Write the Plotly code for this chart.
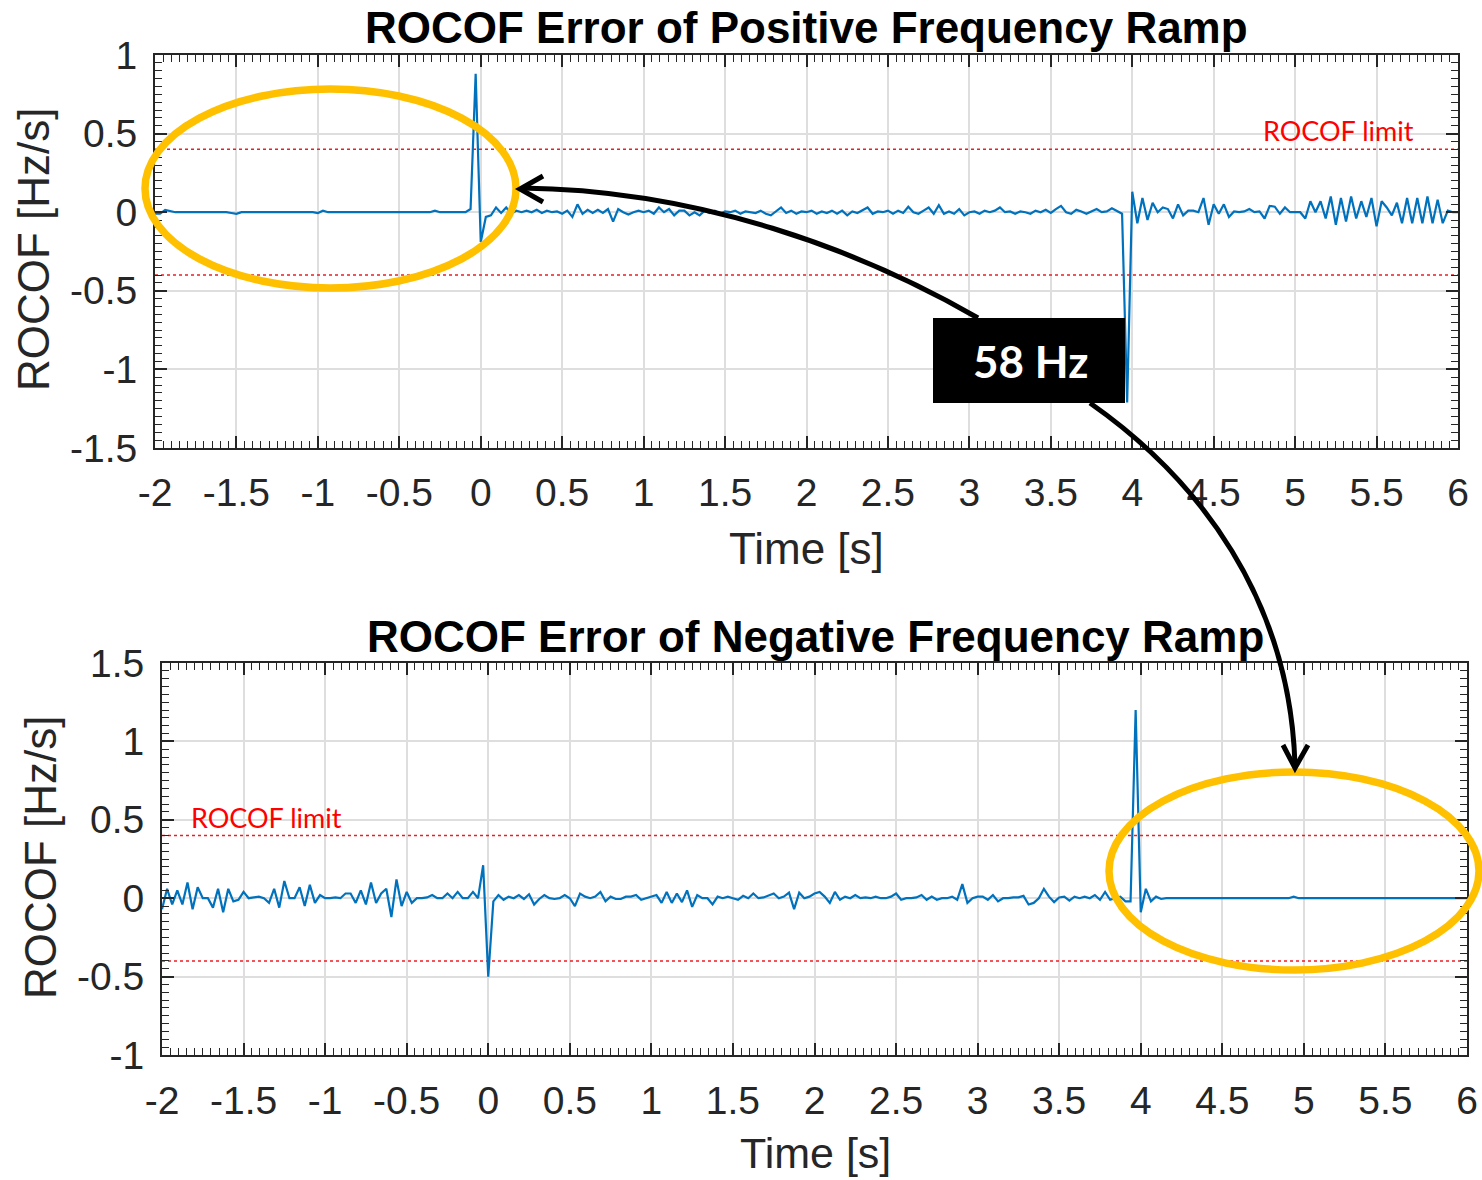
import numpy as np
import plotly.graph_objects as go

# ---------------------------------------------------------------- data
SAMPLE_RATE = 32          # reports per second
T_START = -2.0            # s

# ROCOF error, positive frequency ramp [Hz/s]
rocof_pos = [
    -0.01, -0.01, 0.015, 0.005, 0, 0, 0, 0, 0, 0, 0, 0, 0, 0, 0, -0.005,
    -0.01, 0, 0, 0, 0, 0, 0, 0, 0, 0, 0, 0, 0, 0, 0, 0,
    -0.005, 0.01, 0, 0, 0, 0, 0, 0, 0, 0, 0, 0, 0, 0, 0, 0,
    0, 0, 0, 0, 0, 0, 0, 0.01, 0, 0, 0, 0, 0, 0, 0.02, 0.88,
    -0.19, -0.03, -0.02, 0.03, -0.005, 0.03, -0.01, 0.01, 0, 0.01, 0, 0.015, -0.005, 0.01, 0, 0.005,
    -0.01, 0.01, -0.03, 0.05, -0.01, 0.015, -0.005, 0.015, -0.005, 0.02, -0.06, 0.02, 0, -0.015, 0, 0.01,
    0, 0.01, -0.01, 0.03, 0, 0.02, -0.02, 0.01, 0.01, -0.02, 0, -0.02, 0.01, -0.005, 0.01, -0.01,
    0.005, 0, 0.01, -0.01, 0.005, 0, -0.005, 0.01, -0.01, -0.02, 0.005, 0.03, -0.005, 0.01, -0.01, 0.005,
    0, 0.01, -0.01, 0.005, -0.005, 0.01, -0.01, 0.01, -0.02, 0.005, -0.005, 0.01, 0.03, -0.01, 0.005, 0,
    0.01, -0.01, 0.01, -0.005, 0.035, 0, -0.01, 0.01, 0.03, -0.01, 0.045, -0.01, 0.005, -0.01, 0.02, -0.02,
    0, 0.005, -0.01, 0.01, 0, 0.01, 0.03, 0, 0.005, -0.01, 0.005, 0, -0.01, 0.01, 0, 0.015,
    -0.005, 0.02, 0.04, 0, -0.01, 0.015, 0.005, -0.01, 0.005, 0.02, 0, 0.005, 0.025, 0.005, -0.01, -1.21,
    0.13, -0.07, 0.09, -0.05, 0.06, 0, 0.03, 0.02, -0.04, 0.05, -0.02, 0.01, 0.01, 0, 0.09, -0.08,
    0.05, -0.01, 0.05, -0.03, 0.005, 0, 0.005, 0.02, 0, 0.005, -0.04, 0.04, 0.035, -0.01, 0.03, 0,
    0, 0, -0.04, 0.07, 0, 0.07, -0.04, 0.1, -0.08, 0.09, -0.06, 0.1, -0.04, 0.07, -0.03, 0.09,
    -0.09, 0.07, 0.03, -0.02, 0.06, -0.07, 0.09, -0.07, 0.09, -0.07, 0.1, -0.07, 0.08, -0.07, 0.01, 0,
    0,
]

# ROCOF error, negative frequency ramp [Hz/s]
rocof_neg = [
    -0.07, 0.06, -0.04, 0.05, -0.04, 0.1, -0.07, 0.07, 0, 0, -0.06, 0.06, -0.09, 0.06, -0.02, -0.01,
    0.04, 0, 0.005, 0.01, 0, -0.03, 0.06, -0.06, 0.11, 0, 0, 0.07, -0.05, 0.085, -0.03, 0.02,
    0, 0, 0.005, 0, 0.03, 0.03, -0.03, 0.05, -0.04, 0.1, -0.03, 0.03, 0.06, -0.12, 0.12, -0.05,
    0.04, -0.03, 0, 0, 0.005, 0.02, 0, 0, 0.03, 0, 0.04, 0, 0, 0.04, 0, 0.21,
    -0.5, -0.02, 0.02, -0.01, 0.01, 0, 0.02, -0.005, 0.025, -0.04, -0.005, 0.02, 0, -0.005, 0, 0.02,
    0, -0.05, 0.03, 0.01, 0, 0.01, 0.04, -0.02, 0.01, -0.005, -0.005, 0.01, 0.01, 0.02, -0.01, 0,
    0.01, 0.02, -0.03, 0.04, -0.03, 0.03, -0.025, 0.05, -0.055, 0.02, 0, 0, -0.04, 0.01, 0, 0.01,
    0, -0.01, 0.015, 0, 0.03, 0, 0.005, 0.02, 0.03, 0, 0.01, 0.035, -0.07, 0.035, 0, 0.01,
    0.03, 0.04, 0.01, -0.03, 0.04, -0.01, 0.01, 0, 0.02, 0, 0.005, 0, 0.01, 0, 0, 0.01,
    0.03, -0.01, 0, 0, 0.005, 0.02, -0.01, 0.01, -0.01, 0, 0, 0.01, -0.01, 0.09, -0.03, 0,
    0.01, 0.01, -0.01, 0.02, -0.02, 0, 0, 0.005, 0.005, 0.015, -0.04, -0.03, 0, 0.06, 0.01, -0.025,
    0.005, 0.01, -0.015, 0.01, 0, 0.01, 0, 0.02, -0.01, 0.04, -0.01, 0, 0.01, -0.02, -0.02, 1.2,
    -0.09, 0.06, -0.02, 0.01, -0.005, 0, 0, 0, 0, 0, 0, 0, 0, 0, 0, 0,
    0, 0, 0, 0, 0, 0, 0, 0, 0, 0, 0, 0, 0, 0, 0.01, 0,
    0, 0, 0, 0, 0, 0, 0, 0, 0, 0, 0, 0, 0, 0, 0, 0,
    0, 0, 0, 0, 0, 0, 0, 0, 0, 0, 0, 0, 0, 0, 0, 0,
    0,
]

ROCOF_LIMIT = 0.4        # Hz/s

x_ticks = [-2, -1.5, -1, -0.5, 0, 0.5, 1, 1.5, 2, 2.5, 3, 3.5, 4, 4.5, 5, 5.5, 6]
x_tick_text = ["-2", "-1.5", "-1", "-0.5", "0", "0.5", "1", "1.5", "2", "2.5",
               "3", "3.5", "4", "4.5", "5", "5.5", "6"]
y_ticks_top = [-1.5, -1, -0.5, 0, 0.5, 1]
y_tick_text_top = ["-1.5", "-1", "-0.5", "0", "0.5", "1"]
y_ticks_bottom = [-1, -0.5, 0, 0.5, 1, 1.5]
y_tick_text_bottom = ["-1", "-0.5", "0", "0.5", "1", "1.5"]

title_top = "ROCOF Error of Positive Frequency Ramp"
title_bottom = "ROCOF Error of Negative Frequency Ramp"
x_label = "Time [s]"
y_label = "ROCOF [Hz/s]"
limit_label = "ROCOF limit"
callout_label = "58 Hz"

# ---------------------------------------------------------------- helpers
W, H = 1482, 1180


def px(x):
    return x / W


def py(y):
    return 1 - y / H


def path(cmds):
    out = []
    for c in cmds:
        op, pts = c[0], c[1:]
        out.append(op + " " + " ".join(f"{px(a):.5f},{py(b):.5f}" for a, b in pts))
    return " ".join(out)


t_top = T_START + np.arange(len(rocof_pos)) / SAMPLE_RATE
t_bot = T_START + np.arange(len(rocof_neg)) / SAMPLE_RATE

BLUE = "#0072BD"
RED = "#EE1C24"
INK = "#262626"
GOLD = "#FFC000"
FONT = "Liberation Sans, Arial, sans-serif"

fig = go.Figure()

for xa, ya in (("x", "y"), ("x2", "y2")):
    for lvl in (ROCOF_LIMIT, -ROCOF_LIMIT):
        fig.add_trace(go.Scatter(x=[x_ticks[0], x_ticks[-1]], y=[lvl, lvl], xaxis=xa, yaxis=ya,
                                 mode="lines", line=dict(color=RED, width=1.5, dash="dot"),
                                 hoverinfo="skip", showlegend=False))

fig.add_trace(go.Scatter(x=t_top, y=rocof_pos, xaxis="x", yaxis="y", mode="lines",
                         line=dict(color=BLUE, width=2.2), showlegend=False))
fig.add_trace(go.Scatter(x=t_bot, y=rocof_neg, xaxis="x2", yaxis="y2", mode="lines",
                         line=dict(color=BLUE, width=2.2), showlegend=False))


def axis_style(**kw):
    d = dict(
        showline=True, linecolor=INK, linewidth=1.8, mirror="ticks",
        ticks="inside", ticklen=12, tickwidth=1.6, tickcolor=INK,
        showgrid=True, gridcolor="#DEDEDE", gridwidth=1.5, zeroline=False,
        tickfont=dict(family=FONT, size=39, color=INK),
        minor=dict(ticks="inside", ticklen=7, tickwidth=1.4, tickcolor=INK,
                   dtick=0.05, tick0=0, showgrid=False),
        tickmode="array", fixedrange=True, automargin=False,
    )
    d.update(kw)
    return d


fig.update_layout(
    width=W, height=H,
    margin=dict(l=0, r=0, t=0, b=0, pad=0, autoexpand=False),
    paper_bgcolor="white", plot_bgcolor="white",
    showlegend=False,
    xaxis=axis_style(domain=[px(155), px(1458)], anchor="y", range=[-2, 6],
                     tickvals=x_ticks, ticktext=x_tick_text, ticklabelstandoff=9),
    yaxis=axis_style(domain=[py(448), py(55)], anchor="x", range=[-1.5, 1],
                     tickvals=y_ticks_top, ticktext=y_tick_text_top, ticklabelstandoff=8),
    xaxis2=axis_style(domain=[px(162), px(1467)], anchor="y2", range=[-2, 6],
                      tickvals=x_ticks, ticktext=x_tick_text, ticklabelstandoff=10),
    yaxis2=axis_style(domain=[py(1055), py(663)], anchor="x2", range=[-1, 1.5],
                      tickvals=y_ticks_bottom, ticktext=y_tick_text_bottom, ticklabelstandoff=8),
)

ann = []


def text(x, y, s, size, color="black", bold=False, family=FONT, angle=0):
    ann.append(dict(x=px(x), y=py(y), xref="paper", yref="paper", text=f"<b>{s}</b>" if bold else s,
                    showarrow=False, xanchor="center", yanchor="middle", textangle=angle,
                    font=dict(family=family, size=size, color=color)))


text(806, 27, title_top, 44, bold=True)
text(815, 636, title_bottom, 44, bold=True)
text(806, 548, x_label, 44, color=INK)
text(815, 1153, x_label, 43, color=INK)
text(33, 249, y_label, 44, color=INK, angle=-90)
text(40, 857, y_label, 44, color=INK, angle=-90)
text(1338, 130, limit_label, 27, color="#FF0000", family="Lato, sans-serif")
text(266, 818, limit_label, 27, color="#FF0000", family="Lato, sans-serif")
text(1030, 361, callout_label, 44, color="white", bold=True, family="Lato, sans-serif")

shapes = [
    # highlighted regions
    dict(type="circle", xref="paper", yref="paper", x0=px(145), x1=px(516), y0=py(288), y1=py(89),
         line=dict(color=GOLD, width=7.5), layer="above"),
    dict(type="circle", xref="paper", yref="paper", x0=px(1109), x1=px(1479), y0=py(970), y1=py(772),
         line=dict(color=GOLD, width=7.5), layer="above"),
    # callout box
    dict(type="rect", xref="paper", yref="paper", x0=px(933), x1=px(1125), y0=py(403), y1=py(318),
         fillcolor="black", line=dict(width=0), layer="above"),
    # curved arrows
    dict(type="path", xref="paper", yref="paper", layer="above",
         path=path([("M", (978, 318)), ("C", (860, 250), (700, 190), (522, 188))]),
         line=dict(color="black", width=5)),
    dict(type="path", xref="paper", yref="paper", layer="above",
         path=path([("M", (543, 176)), ("L", (520, 189)), ("L", (543, 202))]),
         line=dict(color="black", width=5)),
    dict(type="path", xref="paper", yref="paper", layer="above",
         path=path([("M", (1090, 403)), ("C", (1200, 480), (1290, 600), (1295, 765))]),
         line=dict(color="black", width=5)),
    dict(type="path", xref="paper", yref="paper", layer="above",
         path=path([("M", (1283, 745)), ("L", (1295, 768)), ("L", (1308, 745))]),
         line=dict(color="black", width=5)),
]

fig.update_layout(annotations=ann, shapes=shapes)
fig.write_html("out.html")
